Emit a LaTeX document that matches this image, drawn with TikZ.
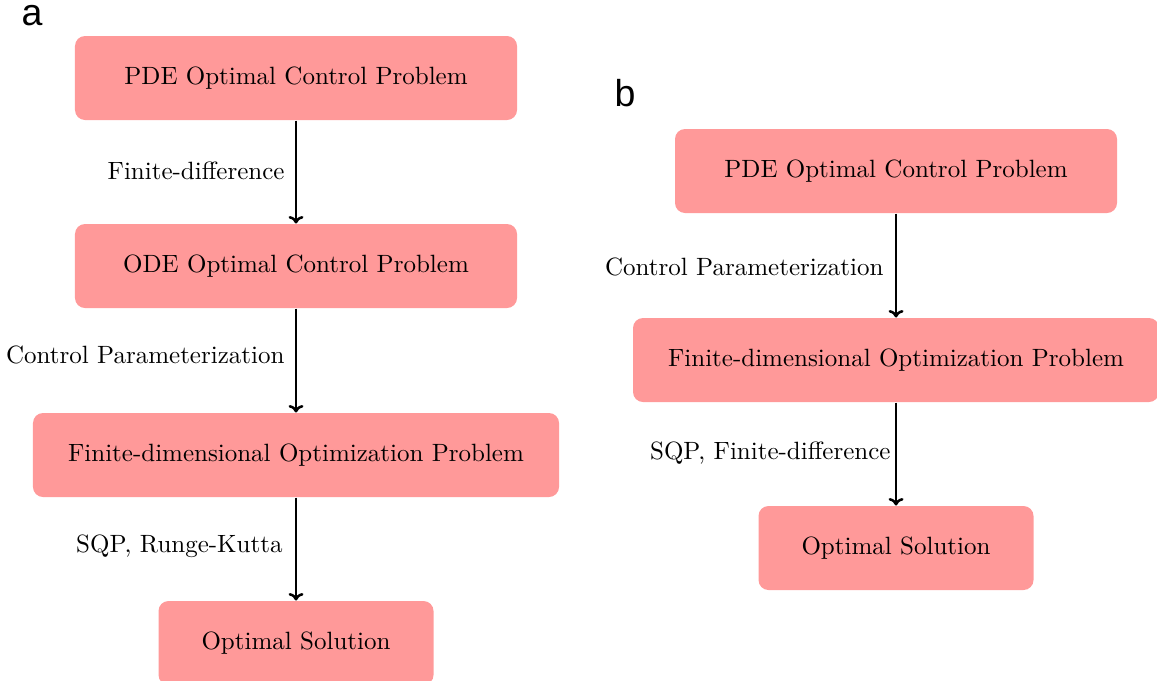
\documentclass[tikz,border=0pt]{standalone}
\usepackage{fontspec}
\newfontfamily\panelfont{Liberation Sans}
\usetikzlibrary{arrows.meta}
\definecolor{boxpink}{HTML}{FF9999}
\tikzset{
  procbox/.style={fill=boxpink, draw=none, rounded corners=4pt, minimum height=33.6pt, inner sep=0pt, font=\normalsize},
  flow/.style={draw=black, line width=1pt, -{To[length=3pt,width=6pt]}},
  steplabel/.style={anchor=east, inner sep=0pt, font=\normalsize},
  panel/.style={anchor=center, inner sep=0pt, font=\panelfont\fontsize{15}{17}\selectfont}
}
\begin{document}
\begin{tikzpicture}[x=0.4pt,y=-0.4pt]
\useasboundingbox (0,0) rectangle (1157,680);
\clip (0,0) rectangle (1157,680);
% panel a
\node[panel] (la) at (32,16) {a};
\node[procbox, minimum width=176.8pt] (a1) at (296,78) {PDE Optimal Control Problem};
\node[procbox, minimum width=176.8pt] (a2) at (296,266) {ODE Optimal Control Problem};
\node[procbox, minimum width=210.4pt] (a3) at (296,455) {Finite-dimensional Optimization Problem};
\node[procbox, minimum width=110pt] (a4) at (296,643) {Optimal Solution};
\draw[flow] (a1) -- (a2);
\draw[flow] (a2) -- (a3);
\draw[flow] (a3) -- (a4);
\node[steplabel] (ta1) at (285,171) {Finite-difference};
\node[steplabel] (ta2) at (285,355) {Control Parameterization};
\node[steplabel] (ta3) at (283,546) {SQP, Runge-Kutta};
% panel b
\node[panel] (lb) at (625,93) {b};
\node[procbox, minimum width=176.8pt] (b1) at (896,171) {PDE Optimal Control Problem};
\node[procbox, minimum width=210.4pt] (b2) at (896,360) {Finite-dimensional Optimization Problem};
\node[procbox, minimum width=110pt] (b3) at (896,548) {Optimal Solution};
\draw[flow] (b1) -- (b2);
\draw[flow] (b2) -- (b3);
\node[steplabel] (tb1) at (884,267) {Control Parameterization};
\node[steplabel] (tb2) at (891,453) {SQP, Finite-difference};
\end{tikzpicture}
\end{document}
